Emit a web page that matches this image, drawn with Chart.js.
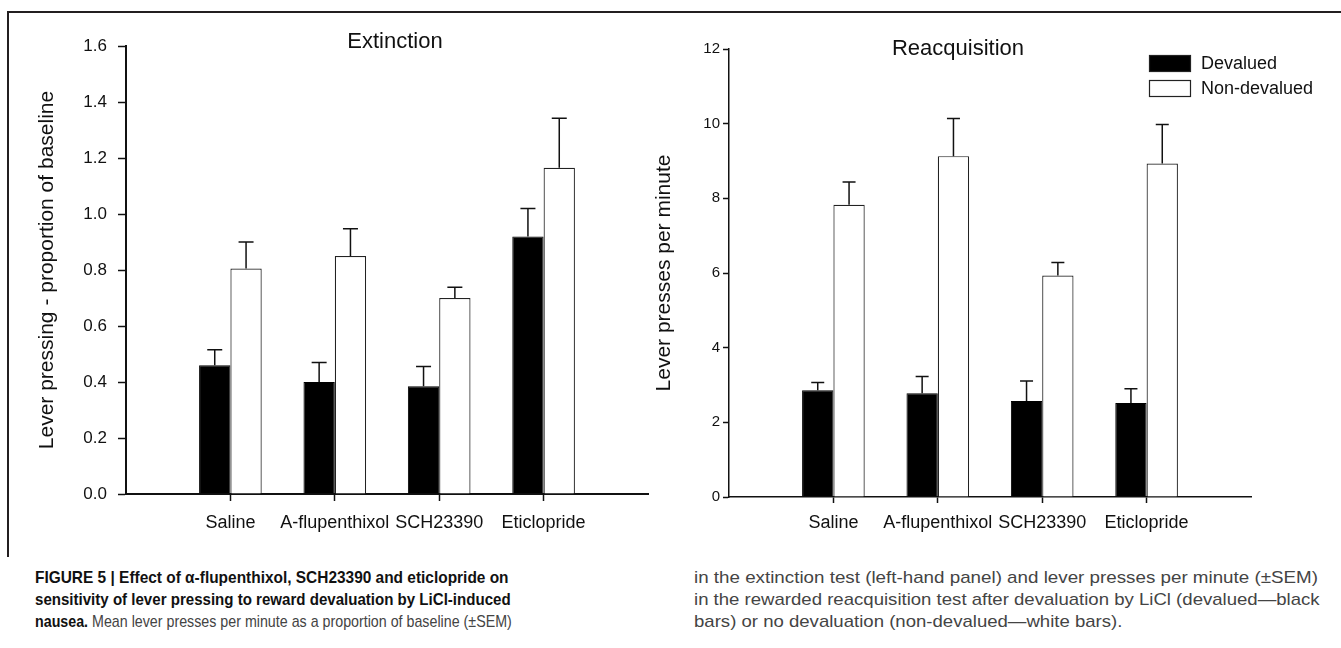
<!DOCTYPE html>
<html>
<head>
<meta charset="utf-8">
<script src="https://cdn.jsdelivr.net/npm/chart.js@4.4.1/dist/chart.umd.min.js"></script>
<style>
  body { margin: 0; background: #fff; width: 1341px; height: 648px; overflow: hidden; position: relative;
         font-family: 'Liberation Sans', Arial, sans-serif; }
  #frame { position: absolute; left: 7px; top: 11px; width: 1340px; height: 544px;
           border-top: 2px solid #231f20; border-left: 2px solid #231f20; }
  canvas { position: absolute; top: 0; }
  #extCanvas { left: 0; }
  #reaCanvas { left: 575px; }
  .cap { position: absolute; white-space: nowrap; font-size: 17px; line-height: 21px; color: #444;
         transform-origin: 0 50%; }
  .cap b { color: #111; }
</style>
</head>
<body>
<div id="frame"></div>
<canvas id="extCanvas" width="790" height="540"></canvas>
<canvas id="reaCanvas" width="766" height="543"></canvas>

<div class="cap" style="left:35px;top:567px" data-w="474"><b>FIGURE 5 | Effect of α-flupenthixol, SCH23390 and eticlopride on</b></div>
<div class="cap" style="left:35px;top:589px" data-w="476"><b>sensitivity of lever pressing to reward devaluation by LiCl-induced</b></div>
<div class="cap" style="left:35px;top:611px" data-w="477"><b>nausea.</b> Mean lever presses per minute as a proportion of baseline (±SEM)</div>
<div class="cap" style="left:694px;top:567px" data-w="624">in the extinction test (left-hand panel) and lever presses per minute (±SEM)</div>
<div class="cap" style="left:694px;top:589px" data-w="626">in the rewarded reacquisition test after devaluation by LiCl (devalued—black</div>
<div class="cap" style="left:694px;top:611px">bars) or no devaluation (non-devalued—white bars).</div>

<script>
// données
const categories = ['Saline', 'A-flupenthixol', 'SCH23390', 'Eticlopride'];

// Extinction (proportion of baseline)
const extDevalued = [0.46, 0.40, 0.385, 0.92];
const extDevaluedSem = [0.055, 0.07, 0.07, 0.10];
const extNonDevalued = [0.805, 0.85, 0.70, 1.165];
const extNonDevaluedSem = [0.095, 0.097, 0.038, 0.177];
const extTicks = ['0.0', '0.2', '0.4', '0.6', '0.8', '1.0', '1.2', '1.4', '1.6'];

// Reacquisition (lever presses per minute)
const reaDevalued = [2.86, 2.78, 2.57, 2.52];
const reaDevaluedSem = [0.21, 0.45, 0.54, 0.38];
const reaNonDevalued = [7.83, 9.13, 5.93, 8.93];
const reaNonDevaluedSem = [0.61, 1.01, 0.35, 1.05];
const reaTicks = ['0', '2', '4', '6', '8', '10', '12'];

Chart.defaults.font.family = "'Liberation Sans', Arial, sans-serif";
Chart.defaults.color = '#111';

// une case vide de chaque côté, comme sur la figure
const labels = [''].concat(categories, ['']);
const pad = arr => [null].concat(arr, [null]);
const lastIdx = labels.length - 1;

// barres d'erreur (SEM, vers le haut seulement)
const errorBars = {
  id: 'errorBars',
  afterDatasetsDraw(chart, args, opts) {
    const ctx = chart.ctx;
    const y = chart.scales.y;
    chart.data.datasets.forEach((ds, di) => {
      const meta = chart.getDatasetMeta(di);
      ds.sem.forEach((s, i) => {
        if (s == null || ds.data[i] == null) return;
        const bar = meta.data[i];
        const top = y.getPixelForValue(ds.data[i] + s);
        ctx.save();
        ctx.strokeStyle = '#111';
        ctx.lineWidth = 1.5;
        ctx.beginPath();
        ctx.moveTo(bar.x, bar.y);
        ctx.lineTo(bar.x, top);
        ctx.moveTo(bar.x - opts.cap / 2, top);
        ctx.lineTo(bar.x + opts.cap / 2, top);
        ctx.stroke();
        ctx.restore();
      });
    });
  }
};

// légende dans le coin haut droit du panneau de droite
const boxLegend = {
  id: 'boxLegend',
  afterDraw(chart) {
    const ctx = chart.ctx;
    const area = chart.chartArea;
    const x = area.right - 102;
    let y = area.top + 6;
    ctx.save();
    ctx.font = "18px 'Liberation Sans', Arial, sans-serif";
    ctx.textBaseline = 'middle';
    chart.data.datasets.forEach(ds => {
      ctx.fillStyle = ds.backgroundColor;
      ctx.fillRect(x, y, 42, 17);
      ctx.strokeStyle = '#222';
      ctx.lineWidth = 1.2;
      ctx.strokeRect(x + 0.5, y + 0.5, 41, 16);
      ctx.fillStyle = '#111';
      ctx.fillText(ds.label, x + 52, y + 9);
      y += 25;
    });
    ctx.restore();
  }
};

function makeChart(id, o) {
  return new Chart(document.getElementById(id), {
    type: 'bar',
    data: {
      labels: labels,
      datasets: [{
        label: 'Devalued',
        data: pad(o.dev),
        sem: pad(o.devSem),
        backgroundColor: '#000',
        borderColor: '#000',
        borderWidth: 1
      }, {
        label: 'Non-devalued',
        data: pad(o.non),
        sem: pad(o.nonSem),
        backgroundColor: '#fff',
        borderColor: '#222',
        borderWidth: 1.2
      }]
    },
    options: {
      responsive: false,
      animation: false,
      devicePixelRatio: 1,
      categoryPercentage: 0.6,
      barPercentage: 1.0,
      layout: { padding: 0 },
      plugins: {
        legend: { display: false },
        tooltip: { enabled: false },
        title: {
          display: true,
          text: o.title,
          font: { size: 22, weight: 'normal' },
          color: '#111',
          padding: o.titlePad
        },
        errorBars: { cap: o.cap }
      },
      scales: {
        x: {
          type: 'category',
          offset: false,
          grid: {
            offset: false,
            drawOnChartArea: false,
            tickLength: o.xTickLen,
            tickWidth: 1.5,
            tickColor: c => (c.index === 0 || c.index === lastIdx) ? 'rgba(0,0,0,0)' : '#111'
          },
          border: { color: '#111', width: o.axisWidth },
          ticks: { autoSkip: false, maxRotation: 0, minRotation: 0, font: { size: 18 }, padding: o.xPad, color: '#111' },
          afterFit: s => { s.height = o.xHeight; }
        },
        y: {
          type: 'linear',
          min: 0,
          max: o.max,
          ticks: {
            stepSize: o.step,
            font: { size: o.tickSize },
            padding: o.yPad,
            color: '#111',
            callback: (v, i) => o.ticks[i]
          },
          grid: { drawOnChartArea: false, tickLength: o.yTickLen, tickWidth: 1.5, tickColor: '#111' },
          border: { color: '#111', width: o.axisWidth },
          title: {
            display: true,
            text: o.yTitle,
            font: { size: 21 },
            color: '#111',
            padding: { top: o.yTitlePad, bottom: 0 }
          },
          afterFit: s => { s.width = o.yWidth; }
        },
        yPad: {
          type: 'linear',
          position: 'right',
          grid: { display: false },
          border: { display: false },
          ticks: { display: false },
          afterFit: s => { s.width = o.rightGap; }
        }
      }
    },
    plugins: o.legend ? [errorBars, boxLegend] : [errorBars]
  });
}

makeChart('extCanvas', {
  title: 'Extinction',
  titlePad: { top: 28.8, bottom: -9.2 },
  dev: extDevalued, devSem: extDevaluedSem,
  non: extNonDevalued, nonSem: extNonDevaluedSem,
  ticks: extTicks, max: 1.6, step: 0.2, tickSize: 17,
  yTitle: 'Lever pressing - proportion of baseline',
  yTitlePad: 34.4, yWidth: 126, rightGap: 142,
  yTickLen: 8, yPad: 11, xTickLen: 7, xPad: 11, xHeight: 46,
  axisWidth: 2, cap: 15, legend: false
});

makeChart('reaCanvas', {
  title: 'Reacquisition',
  titlePad: { top: 35.3, bottom: -12.7 },
  dev: reaDevalued, devSem: reaDevaluedSem,
  non: reaNonDevalued, nonSem: reaNonDevaluedSem,
  ticks: reaTicks, max: 12, step: 2, tickSize: 15,
  yTitle: 'Lever presses per minute',
  yTitlePad: 76.4, yWidth: 154, rightGap: 90,
  yTickLen: 6, yPad: 3, xTickLen: 6, xPad: 9, xHeight: 46,
  axisWidth: 1.5, cap: 13, legend: true
});

// légende de la figure : lignes justifiées à la largeur de la colonne
let lastScale = 0.85;
document.querySelectorAll('.cap').forEach(el => {
  const w = parseFloat(el.dataset.w);
  const k = w ? w / el.offsetWidth : lastScale;
  el.style.transform = 'scaleX(' + k + ')';
  lastScale = k;
});
</script>
</body>
</html>
